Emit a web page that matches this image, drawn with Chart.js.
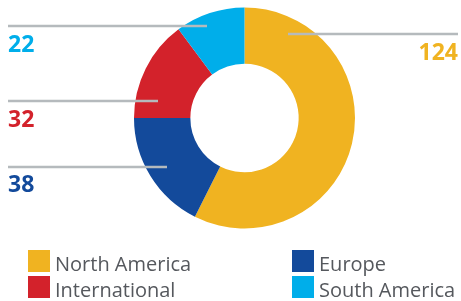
<!DOCTYPE html>
<html>
<head>
<meta charset="utf-8">
<script src="https://cdn.jsdelivr.net/npm/chart.js@4/dist/chart.umd.min.js"></script>
<style>
html,body{margin:0;padding:0;background:#fff;}
#wrap{position:relative;width:461px;height:301px;}
</style>
</head>
<body>
<div id="wrap"><canvas id="c" width="461" height="301"></canvas></div>
<script>
// Data
const categories = ["North America", "Europe", "International", "South America"];
const values = [124, 38, 32, 22];
const colors = ["#f0b321", "#134a9b", "#d3222b", "#00aeea"];

// Layout for callouts (style/position, not data)
const callouts = [
  { idx: 0, lineY: 34, x1: 288, x2: 458, textX: 458, textY: 60, align: "right" },
  { idx: 1, lineY: 167, x1: 8, x2: 167, textX: 8, textY: 192, align: "left" },
  { idx: 2, lineY: 101, x1: 8, x2: 158, textX: 8, textY: 127, align: "left" },
  { idx: 3, lineY: 26, x1: 8, x2: 207, textX: 8, textY: 52, align: "left" }
];
const legendPos = [
  { x: 28, y: 250 }, { x: 292, y: 250 }, { x: 28, y: 276 }, { x: 292, y: 276 }
];

const overlay = {
  id: "overlay",
  afterDraw(chart) {
    const ctx = chart.ctx;
    ctx.save();
    // leader lines
    ctx.strokeStyle = "#b5babd";
    ctx.lineWidth = 2.5;
    callouts.forEach(c => {
      ctx.beginPath();
      ctx.moveTo(c.x1, c.lineY);
      ctx.lineTo(c.x2, c.lineY);
      ctx.stroke();
    });
    // value labels
    ctx.font = "bold 23px 'Open Sans', Lato, sans-serif";
    ctx.textBaseline = "alphabetic";
    callouts.forEach(c => {
      ctx.fillStyle = colors[c.idx];
      ctx.textAlign = c.align;
      ctx.fillText(String(values[c.idx]), c.textX, c.textY);
    });
    // legend
    ctx.font = "20px 'Open Sans', Lato, sans-serif";
    ctx.textAlign = "left";
    categories.forEach((name, i) => {
      const p = legendPos[i];
      ctx.fillStyle = colors[i];
      ctx.fillRect(p.x, p.y, 22, 22);
      ctx.fillStyle = "#55585d";
      ctx.fillText(name, p.x + 27, p.y + 21);
    });
    ctx.restore();
  }
};

new Chart(document.getElementById("c"), {
  type: "doughnut",
  data: {
    labels: categories,
    datasets: [{
      data: values,
      backgroundColor: colors,
      borderWidth: 0,
      hoverOffset: 0
    }]
  },
  options: {
    responsive: false,
    animation: false,
    cutout: "49%",
    layout: { padding: { left: 134, right: 106, top: 7, bottom: 72 } },
    plugins: { legend: { display: false }, tooltip: { enabled: false } }
  },
  plugins: [overlay]
});
</script>
</body>
</html>
